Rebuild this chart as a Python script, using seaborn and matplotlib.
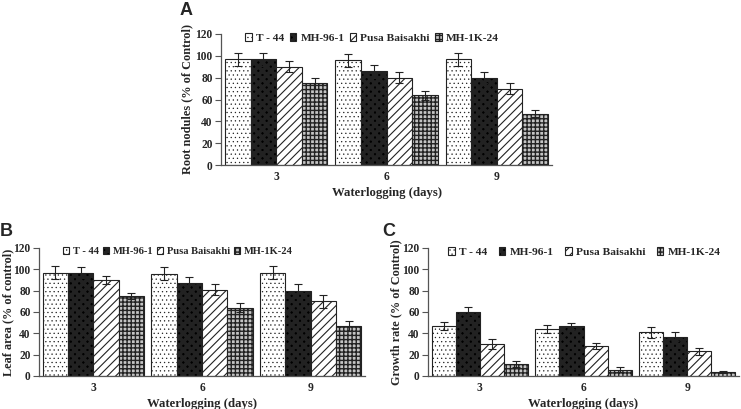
import matplotlib
matplotlib.use("Agg")
import matplotlib.pyplot as plt
import seaborn as sns
import numpy as np
import pandas as pd

days = ["3", "6", "9"]
varieties = ["T - 44", "MH-96-1", "Pusa Baisakhi", "MH-1K-24"]

root_vals = {"T - 44": [97, 96, 97], "MH-96-1": [97, 86, 80],
             "Pusa Baisakhi": [90, 80, 70], "MH-1K-24": [75, 64, 47]}
root_err = {"T - 44": [6, 6, 6], "MH-96-1": [6, 6, 5],
            "Pusa Baisakhi": [5, 5, 5], "MH-1K-24": [5, 4, 3]}

leaf_vals = {"T - 44": [97, 96, 97], "MH-96-1": [97, 87, 80],
             "Pusa Baisakhi": [90, 81, 70], "MH-1K-24": [75, 64, 47]}
leaf_err = {"T - 44": [6, 6, 6], "MH-96-1": [5, 6, 6],
            "Pusa Baisakhi": [4, 5, 6], "MH-1K-24": [3, 4, 5]}

growth_vals = {"T - 44": [47, 44, 41], "MH-96-1": [60, 47, 37],
               "Pusa Baisakhi": [30, 28, 23], "MH-1K-24": [11, 6, 4]}
growth_err = {"T - 44": [4, 4, 5], "MH-96-1": [5, 3, 4],
              "Pusa Baisakhi": [5, 3, 3], "MH-1K-24": [3, 2, 1]}

hatches = {"T - 44": "....", "MH-96-1": "xxxx", "Pusa Baisakhi": "////", "MH-1K-24": "++++"}
hatch_lw = {"T - 44": 0.4, "MH-96-1": 2.7, "Pusa Baisakhi": 0.8, "MH-1K-24": 1.0}
faces = {"T - 44": "white", "MH-96-1": "black", "Pusa Baisakhi": "white", "MH-1K-24": "#c4c4c4"}
hcolors = {"T - 44": "black", "MH-96-1": "white", "Pusa Baisakhi": "black", "MH-1K-24": "black"}

sns.set_style("white")
plt.rcParams["font.family"] = ["Liberation Serif", "DejaVu Serif"]
plt.rcParams["hatch.color"] = "black"

fig = plt.figure(figsize=(7.41, 4.09), dpi=100)
W, H = 741, 409


def ax_at(x0, x1, ytop, ybot):
    return fig.add_axes([x0 / W, 1 - ybot / H, (x1 - x0) / W, (ybot - ytop) / H])


def style_bar(bar, v):
    bar.set_hatch(hatches[v])
    bar.set_facecolor(faces[v])
    try:
        bar.set_hatch_linewidth(hatch_lw[v])
    except Exception:
        pass
    try:
        bar.set_hatchcolor(hcolors[v])
    except Exception:
        pass


def panel(ax, vals, errs, ylabel, letter, lx, ly, leg_x, colsp, ylab_x, lfs):
    rows = []
    for v in varieties:
        for d, y, e in zip(days, vals[v], errs[v]):
            rows.append({"day": d, "variety": v, "value": y, "err": e})
    df = pd.DataFrame(rows)
    sns.barplot(data=df, x="day", y="value", hue="variety", order=days,
                hue_order=varieties, errorbar=None, width=0.93, ax=ax,
                palette=["white"] * 4, edgecolor="#222222", linewidth=0.8,
                legend=False, saturation=1)
    for cont, v in zip(ax.containers, varieties):
        for bar, (_, r) in zip(cont, df[df.variety == v].iterrows()):
            style_bar(bar, v)
            cx = bar.get_x() + bar.get_width() / 2
            ax.errorbar(cx, bar.get_height(), yerr=r["err"], color="#222222",
                        capsize=3, elinewidth=0.8, capthick=0.8, fmt="none")
    ax.set_ylim(0, 120)
    ax.set_xlim(-0.5, 2.5)
    ax.set_yticks(np.arange(0, 121, 20))
    ax.set_xticks([0, 1, 2])
    ax.set_xticks([-0.5, 0.5, 1.5, 2.5], minor=True)
    ax.tick_params(axis="x", which="major", length=0, pad=4.5)
    ax.tick_params(axis="x", which="minor", length=4, direction="out", color="#555555")
    ax.tick_params(axis="y", length=4, direction="out", color="#555555", pad=2, left=True)
    for lab in ax.get_xticklabels() + ax.get_yticklabels():
        lab.set_fontweight("bold")
        lab.set_fontsize(8.3)
    for s in ["top", "right"]:
        ax.spines[s].set_visible(False)
    for s in ["left", "bottom"]:
        ax.spines[s].set_color("#555555")
        ax.spines[s].set_linewidth(0.9)
    ax.set_xlabel("Waterlogging (days)", fontsize=9.2, fontweight="bold", labelpad=2.5)
    ax.set_ylabel(ylabel, fontsize=8.8, fontweight="bold")
    ax.yaxis.set_label_coords(ylab_x, 0.5)
    handles = [ax.containers[i][0] for i in range(4)]
    leg = ax.legend(handles, varieties, ncol=4, frameon=False, loc="upper left",
                    bbox_to_anchor=(leg_x, 1.04), handlelength=0.6, handleheight=0.6,
                    handletextpad=0.35, columnspacing=colsp, borderaxespad=0.0,
                    prop={"family": "Liberation Serif", "weight": "bold", "size": lfs})
    for h, v in zip(leg.legend_handles, varieties):
        style_bar(h, v)
        h.set_edgecolor("#222222")
    fig.text(lx / W, 1 - ly / H, letter, fontsize=13, fontweight="bold",
             family=["Liberation Sans", "DejaVu Sans"], va="top", ha="left")


axA = ax_at(221, 552, 34, 165)
panel(axA, root_vals, root_err, "Root nodules (% of Control)", "A", 180, 2, 0.06, 0.45, -0.085, 8.2)

axB = ax_at(39, 365, 248, 376)
panel(axB, leaf_vals, leaf_err, "Leaf area (% of control)", "B", 0, 223, 0.06, 0.35, -0.077, 7.6)

axC = ax_at(428, 739, 248, 376)
panel(axC, growth_vals, growth_err, "Growth rate (% of Control)", "C", 382, 223, 0.05, 1.0, -0.084, 8.2)

fig.savefig("out.png", dpi=100)
